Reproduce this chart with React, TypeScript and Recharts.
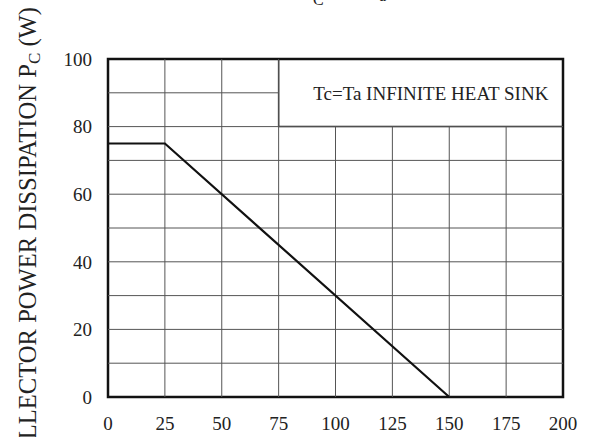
import React from "react";
import { LineChart, Line, XAxis, YAxis, ReferenceLine, ReferenceArea } from "recharts";

const temps = [0, 25, 150];
const power = [75, 75, 0];
const xTicks = [0, 25, 50, 75, 100, 125, 150, 175, 200];
const yTicks = [0, 20, 40, 60, 80, 100];
const yGrid = [10, 20, 30, 40, 50, 60, 70, 80, 90];
const xGrid = [25, 50, 75, 100, 125, 150, 175];
const noteText = "Tc=Ta INFINITE HEAT SINK";
const note = { x1: 75, x2: 200, y1: 80, y2: 100 };

const data = temps.map((t, i) => ({ t, p: power[i] }));
const FONT = "Liberation Serif, Times New Roman, serif";

export default function App() {
  const inNoteY = (v: number) => v > note.y1 && v < note.y2;
  return (
    <div style={{ position: "absolute", left: 0, top: 0, width: 602, height: 437, background: "#fff", fontFamily: FONT }}>
      <LineChart width={602} height={437} data={data} margin={{ top: 59, right: 39, bottom: 0, left: 0 }} style={{ fontFamily: FONT }}>
        <XAxis
          dataKey="t"
          type="number"
          domain={[0, 200]}
          ticks={xTicks}
          axisLine={false}
          tickLine={false}
          height={40}
          tick={{ fontSize: 19, fill: "#222", fontFamily: FONT, dy: 12 }}
          interval={0}
        />
        <YAxis
          type="number"
          domain={[0, 100]}
          ticks={yTicks}
          axisLine={false}
          tickLine={false}
          width={108}
          tick={{ fontSize: 19, fill: "#222", fontFamily: FONT, dx: -8 }}
          interval={0}
        />
        {yGrid.map((v) => (
          <ReferenceLine
            key={"h" + v}
            segment={[{ x: 0, y: v }, { x: inNoteY(v) ? note.x1 : 200, y: v }]}
            stroke="#555"
            strokeWidth={1}
            ifOverflow="visible"
          />
        ))}
        {xGrid.map((v) => (
          <ReferenceLine
            key={"v" + v}
            segment={[{ x: v, y: 0 }, { x: v, y: v > note.x1 ? note.y1 : 100 }]}
            stroke="#555"
            strokeWidth={1}
            ifOverflow="visible"
          />
        ))}
        <ReferenceArea
          x1={note.x1}
          x2={note.x2}
          y1={note.y1}
          y2={note.y2}
          fill="none"
          stroke="#222"
          strokeWidth={1.5}
          ifOverflow="visible"
          label={{ value: noteText, position: "center", fontSize: 19, fill: "#222", fontFamily: FONT, dx: 10 }}
        />
        <ReferenceArea x1={0} x2={200} y1={0} y2={100} fill="none" stroke="#111" strokeWidth={2.5} ifOverflow="visible" />
        <Line
          dataKey="p"
          stroke="#111"
          strokeWidth={2.2}
          dot={false}
          isAnimationActive={false}
        />
        <text x={36} y={7} transform="rotate(-90 36 7)" textAnchor="end" fontSize={24.6} fill="#222" fontFamily={FONT}>
          COLLECTOR POWER DISSIPATION  P<tspan fontSize={17} dy={4}>C</tspan><tspan dy={-4}> (W)</tspan>
        </text>
        <text y={-2} fontSize={24} fill="#222" fontFamily={FONT}>
          <tspan x={298}>P</tspan>
          <tspan x={313} fontSize={16} dy={7}>C</tspan>
          <tspan x={337} dy={-7}>—</tspan>
          <tspan x={365}>T</tspan>
          <tspan x={379} fontSize={16} dy={3}>a</tspan>
        </text>
      </LineChart>
    </div>
  );
}
